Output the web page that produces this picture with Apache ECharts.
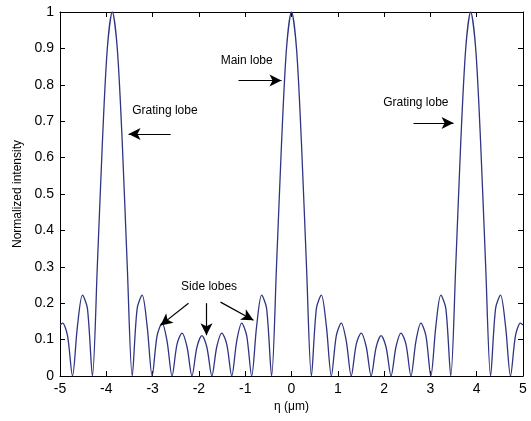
<!DOCTYPE html>
<html>
<head>
<meta charset="utf-8">
<script src="https://cdn.jsdelivr.net/npm/echarts@6/dist/echarts.min.js"></script>
<style>
  html, body { margin: 0; padding: 0; background: #fff; }
  #chart { width: 531px; height: 421px; }
</style>
</head>
<body>
<div id="chart"></div>
<script>
// eta positions (um), quarter-lobe spacing
const eta = [
  -5.000, -4.945, -4.838, -4.730, -4.623, -4.515, -4.408, -4.300, -4.193, -4.085, -3.978,
  -3.870, -3.763, -3.655, -3.548, -3.440, -3.333, -3.225, -3.118, -3.010, -2.903,
  -2.795, -2.688, -2.580, -2.473, -2.365, -2.258, -2.150, -2.043, -1.935, -1.828,
  -1.720, -1.613, -1.505, -1.398, -1.290, -1.183, -1.075, -0.968, -0.860, -0.753,
  -0.645, -0.538, -0.430, -0.323, -0.215, -0.108, 0,
  0.108, 0.215, 0.323, 0.430, 0.538, 0.645, 0.753, 0.860, 0.968, 1.075,
  1.183, 1.290, 1.398, 1.505, 1.613, 1.720, 1.828, 1.935, 2.043, 2.150,
  2.258, 2.365, 2.473, 2.580, 2.688, 2.795, 2.903, 3.010, 3.118, 3.225,
  3.333, 3.440, 3.548, 3.655, 3.763, 3.870, 3.978, 4.085, 4.193, 4.300,
  4.408, 4.515, 4.623, 4.730, 4.838, 4.945, 5.000
];
const intensity = [
  0.140, 0.145, 0.111, 0, 0.137, 0.222, 0.186, 0, 0.304, 0.64, 0.90,
  1, 0.90, 0.64, 0.304, 0, 0.186, 0.222, 0.137, 0, 0.111,
  0.145, 0.096, 0, 0.087, 0.118, 0.081, 0, 0.079, 0.111, 0.079,
  0, 0.081, 0.118, 0.087, 0, 0.096, 0.145, 0.111, 0, 0.137,
  0.222, 0.186, 0, 0.304, 0.64, 0.90, 1,
  0.90, 0.64, 0.304, 0, 0.186, 0.222, 0.137, 0, 0.111, 0.145,
  0.096, 0, 0.087, 0.118, 0.081, 0, 0.079, 0.111, 0.079, 0,
  0.081, 0.118, 0.087, 0, 0.096, 0.145, 0.111, 0, 0.137, 0.222,
  0.186, 0, 0.304, 0.64, 0.90, 1, 0.90, 0.64, 0.304, 0,
  0.186, 0.222, 0.137, 0, 0.111, 0.145, 0.140
];

// annotation texts and arrows (data coords)
const labels = [
  { text: "Main lobe", at: [-1.53, 0.867], align: "left" },
  { text: "Grating lobe", at: [-3.44, 0.728], align: "left" },
  { text: "Grating lobe", at: [1.98, 0.75], align: "left" },
  { text: "Side lobes", at: [-1.78, 0.245], align: "center" }
];
const arrows = [
  [[-1.145, 0.812], [-0.216, 0.812]],
  [[-2.61, 0.665], [-3.52, 0.665]],
  [[2.635, 0.695], [3.50, 0.695]],
  [[-2.225, 0.200], [-2.83, 0.139]],
  [[-1.836, 0.200], [-1.836, 0.112]],
  [[-1.533, 0.203], [-0.821, 0.153]]
];

const font = "Liberation Sans, Arial, sans-serif";
let chart = echarts.init(document.getElementById("chart"));

let axisCommon = {
  type: "value",
  axisLine: { show: true, onZero: false, lineStyle: { color: "#000", width: 1 } },
  axisTick: { show: true, inside: true, length: 5, lineStyle: { color: "#000" } },
  splitLine: { show: false }
};

chart.setOption({
  animation: false,
  grid: { left: 60, right: 8, top: 12, bottom: 45 },
  xAxis: [
    Object.assign({}, axisCommon, {
      min: -5, max: 5, interval: 1,
      axisLabel: { color: "#000", fontSize: 14, fontFamily: font, margin: 6 },
      name: "η (μm)",
      nameLocation: "middle",
      nameGap: 25,
      nameTextStyle: { color: "#000", fontSize: 12, fontFamily: font }
    }),
    Object.assign({}, axisCommon, {
      position: "top", min: -5, max: 5, interval: 1,
      axisLabel: { show: false }
    })
  ],
  yAxis: [
    Object.assign({}, axisCommon, {
      position: "left", min: 0, max: 1, interval: 0.1,
      axisLabel: { color: "#000", fontSize: 14, fontFamily: font, margin: 6 },
      name: "Normalized intensity",
      nameLocation: "middle",
      nameGap: 36,
      nameTextStyle: { color: "#000", fontSize: 12, fontFamily: font }
    }),
    Object.assign({}, axisCommon, {
      position: "right", min: 0, max: 1, interval: 0.1,
      axisLabel: { show: false }
    })
  ],
  series: [
    {
      type: "line",
      data: eta.map((x, i) => [x, intensity[i]]),
      smooth: 0.3,
      showSymbol: false,
      lineStyle: { color: "#2f3582", width: 1.3 },
      markLine: {
        silent: true,
        symbol: ["none", "arrow"],
        symbolSize: [9, 12],
        lineStyle: { color: "#000", width: 1.2, type: "solid" },
        label: { show: false },
        data: arrows.map(a => [{ coord: a[0] }, { coord: a[1] }])
      },
      markPoint: {
        silent: true,
        symbol: "circle",
        symbolSize: 0,
        data: labels.map(l => ({
          coord: l.at,
          label: {
            show: true,
            formatter: l.text,
            position: "inside",
            align: l.align,
            verticalAlign: "middle",
            color: "#000",
            fontSize: 12,
            fontFamily: font
          }
        }))
      }
    }
  ]
});
</script>
</body>
</html>
